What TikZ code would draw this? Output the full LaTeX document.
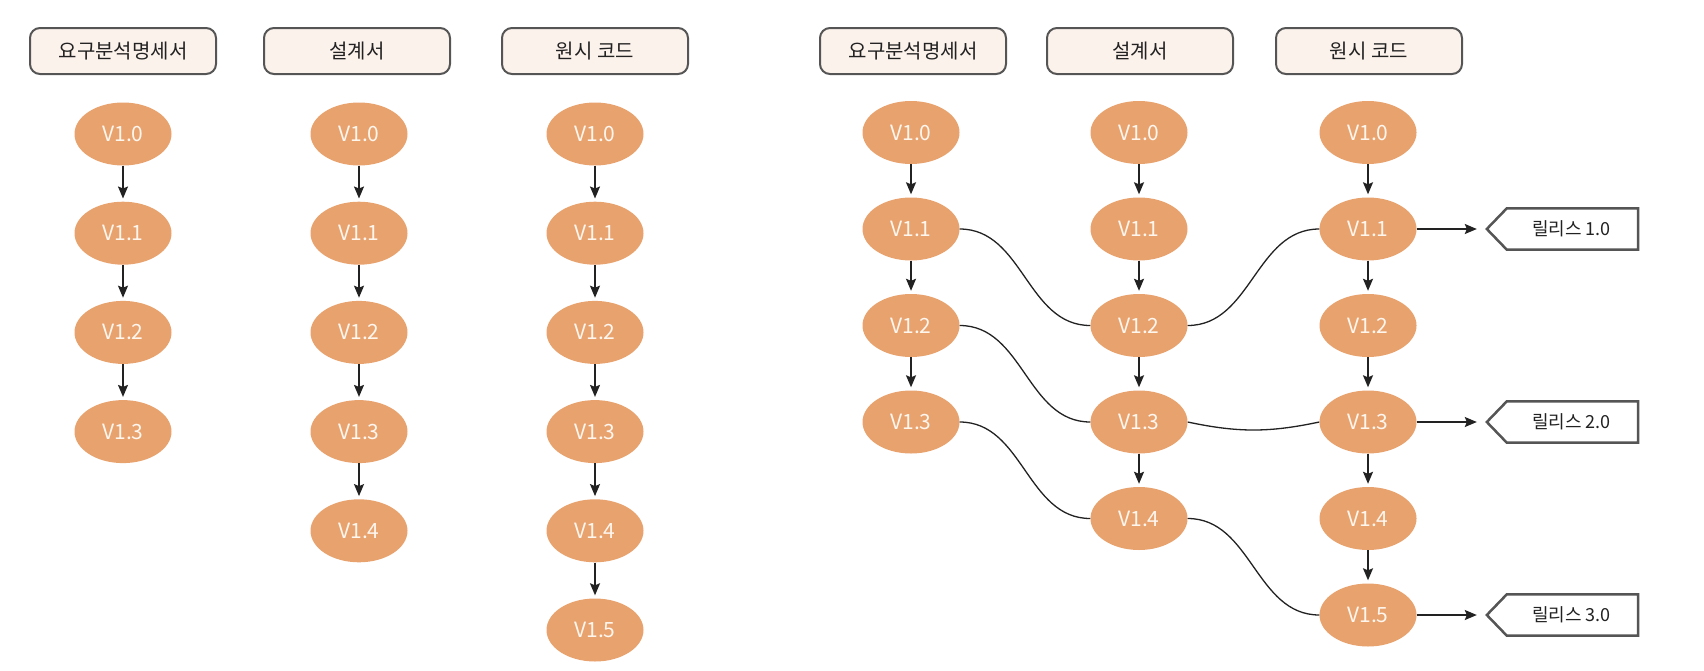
\documentclass[tikz,border=0pt]{standalone}
\usepackage{fontspec}
\setmainfont{Noto Sans CJK KR}
\usetikzlibrary{arrows.meta,shapes.geometric}
\definecolor{verfill}{HTML}{E8A26E}
\definecolor{vertext}{HTML}{FFF6EE}
\definecolor{hdrfill}{HTML}{FCF2EC}
\definecolor{hdrline}{HTML}{555555}
\definecolor{inkc}{HTML}{222222}
\tikzset{
  ver/.style={ellipse, fill=verfill, draw=none, minimum width=97pt, minimum height=63pt, inner sep=0pt,
    text=vertext, font=\fontsize{21pt}{21pt}\selectfont},
  hdr/.style={rectangle, rounded corners=10pt, draw=hdrline, line width=2pt, fill=hdrfill,
    minimum width=186pt, minimum height=46pt, inner sep=0pt, text=inkc, font=\fontsize{20pt}{20pt}\selectfont},
  relbox/.style={rectangle, minimum width=151pt, minimum height=41pt, inner sep=0pt, text=inkc,
    font=\fontsize{18pt}{18pt}\selectfont},
  relline/.style={draw=hdrline, line width=2.5pt, fill=white, line join=miter},
  arr/.style={-{Stealth[length=12pt,width=10pt,inset=2pt]}, line width=1.5pt, draw=inkc, shorten >=3pt},
  relarr/.style={-{Stealth[length=12pt,width=10pt,inset=2pt]}, line width=1.5pt, draw=inkc, shorten >=10pt},
  link/.style={line width=1.3pt, draw=inkc}
}
\begin{document}
\begin{tikzpicture}[x=1pt,y=-1pt]
\useasboundingbox (0,0) rectangle (1704,670);
% ---------- left group ----------
\node[hdr] (LhA) at (123,51) {요구분석명세서};
\node[hdr] (LhB) at (357,51) {설계서};
\node[hdr] (LhC) at (595,51) {원시 코드};
\foreach \c/\x/\n in {A/123/3, B/359/4, C/595/5} {
  \foreach \i in {0,...,\n} {
    \node[ver] (L\c\i) at (\x, {134+99.2*\i}) {V1.\i};
  }
  \foreach \i in {1,...,\n} {
    \pgfmathtruncatemacro\p{\i-1}
    \draw[arr] (L\c\p) -- (L\c\i);
  }
}
% ---------- right group ----------
\node[hdr] (RhA) at (913,51) {요구분석명세서};
\node[hdr] (RhB) at (1140,51) {설계서};
\node[hdr] (RhC) at (1369,51) {원시 코드};
\foreach \c/\x/\n in {A/911/3, B/1139/4, C/1368/5} {
  \foreach \i in {0,...,\n} {
    \node[ver] (R\c\i) at (\x, {132.5+96.5*\i}) {V1.\i};
  }
  \foreach \i in {1,...,\n} {
    \pgfmathtruncatemacro\p{\i-1}
    \draw[arr] (R\c\p) -- (R\c\i);
  }
}
% cross links
\draw[link] (RA1.east) to[out=0,in=180] (RB2.west);
\draw[link] (RA2.east) to[out=0,in=180] (RB3.west);
\draw[link] (RA3.east) to[out=0,in=180] (RB4.west);
\draw[link] (RB2.east) to[out=0,in=180] (RC1.west);
\draw[link] (RB3.east) to[out=-12,in=192] (RC3.west);
\draw[link] (RB4.east) to[out=0,in=180] (RC5.west);
% releases
\foreach \k/\r/\t in {1/1/릴리스 1.0, 2/3/릴리스 2.0, 3/5/릴리스 3.0} {
  \node[relbox] (Rel\k) at (1562.5, {132.5+96.5*\r}) {};
  \draw[relline] (Rel\k.north east) -- (Rel\k.south east) -- ([xshift=20pt]Rel\k.south west)
     -- (Rel\k.west) -- ([xshift=20pt]Rel\k.north west) -- cycle;
  \node[relbox] at (Rel\k) {\hspace*{18pt}\t};
  \draw[relarr] (RC\r.east) -- (Rel\k.west);
}
\end{tikzpicture}
\end{document}
